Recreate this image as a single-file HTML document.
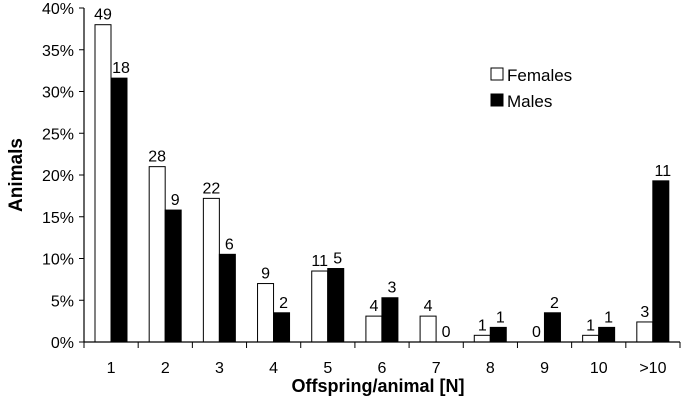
<!DOCTYPE html>
<html><head><meta charset="utf-8"><style>
body{margin:0;background:#fff;}
svg{display:block;font-family:"Liberation Sans",Arial,sans-serif;}
</style></head><body>
<svg id="chart" width="685" height="405"></svg>
<script>
const categories=["1","2","3","4","5","6","7","8","9","10",">10"];
const femaleValues=[38.0,21.0,17.2,7.0,8.5,3.1,3.1,0.8,0,0.8,2.4];
const maleValues=[31.6,15.8,10.5,3.5,8.8,5.3,0,1.75,3.5,1.75,19.3];
const femaleCounts=[49,28,22,9,11,4,4,1,0,1,3];
const maleCounts=[18,9,6,2,5,3,0,1,2,1,11];
const yTicks=[0,5,10,15,20,25,30,35,40];

const NS="http://www.w3.org/2000/svg";
const svg=document.getElementById('chart');
const X0=84,X1=680,Y0=342,Y1=8,YMAX=40;
const cw=(X1-X0)/categories.length;
const y=v=>Y0-(v/YMAX)*(Y0-Y1);
const xc=i=>X0+cw*i;
function mk(t,a,txt){const e=document.createElementNS(NS,t);for(const k in a)e.setAttribute(k,a[k]);if(txt!==undefined)e.textContent=txt;svg.appendChild(e);return e;}

yTicks.forEach(t=>{
  const tk=mk('line',{x1:X0-5,x2:X0,y1:y(t),y2:y(t),stroke:'#000','stroke-width':1});
  
  
  const l=mk('text',{x:X0-10,y:y(t)+6,'text-anchor':'end','font-size':16},t+'%');
  
  
});
categories.forEach((c,i)=>{
  const fx=xc(i)+11, bw=16;
  const fb=mk('rect',{x:fx,y:y(femaleValues[i]),width:bw,height:Y0-y(femaleValues[i]),fill:'#fff',stroke:'#000','stroke-width':1});
  
  
  const mb=mk('rect',{x:fx+bw,y:y(maleValues[i]),width:bw,height:Y0-y(maleValues[i]),fill:'#000',stroke:'#000','stroke-width':1});
  
  
  const fl=mk('text',{x:fx+bw/2,y:y(femaleValues[i])-5,'text-anchor':'middle','font-size':16},femaleCounts[i]);
  
  
  const ml=mk('text',{x:fx+bw*1.5+2,y:y(maleValues[i])-5,'text-anchor':'middle','font-size':16},maleCounts[i]);
  
  
  const xl=mk('text',{x:xc(i)+cw/2,y:373,'text-anchor':'middle','font-size':16},c);
  
  
});
for(let i=0;i<=categories.length;i++){
  const tk=mk('line',{x1:xc(i),x2:xc(i),y1:Y0,y2:Y0+6,stroke:'#000','stroke-width':1});
  
  
}
const ya=mk('line',{x1:X0,x2:X0,y1:Y1,y2:Y0,stroke:'#000','stroke-width':1.2});


const xa=mk('line',{x1:X0,x2:X1,y1:Y0,y2:Y0,stroke:'#000','stroke-width':1.2});


const xt=mk('text',{x:378,y:392,'text-anchor':'middle','font-size':18,'font-weight':'bold'},'Offspring/animal [N]');


const yt=mk('text',{x:0,y:0,'text-anchor':'middle','font-size':19,'font-weight':'bold',transform:'translate(22,175) rotate(-90)'},'Animals');


const lf=mk('rect',{x:491,y:68,width:12,height:12,fill:'#fff',stroke:'#000'});


const lft=mk('text',{x:507,y:81,'font-size':17},'Females');


const lm=mk('rect',{x:491,y:94,width:12,height:12,fill:'#000',stroke:'#000'});


const lmt=mk('text',{x:507,y:107,'font-size':17},'Males');


</script>
</body></html>
